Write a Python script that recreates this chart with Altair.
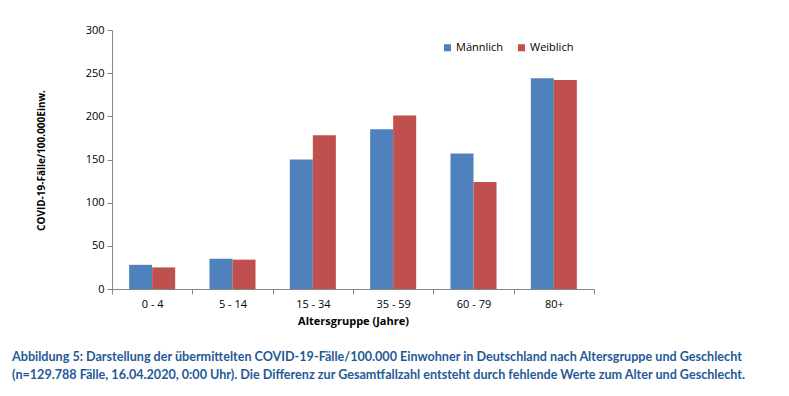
import altair as alt
import pandas as pd

groups = ["0 - 4", "5 - 14", "15 - 34", "35 - 59", "60 - 79", "80+"]
maennlich = [28, 35, 150, 185, 157, 244]
weiblich = [25, 34, 178, 201, 124, 242]
series = ["Männlich", "Weiblich"]
colors = ["#4F81BD", "#C0504D"]
y_ticks = [0, 50, 100, 150, 200, 250, 300]
caption = [
    "Abbildung 5: Darstellung der übermittelten COVID-19-Fälle/100.000 Einwohner in Deutschland nach Altersgruppe und Geschlecht",
    "(n=129.788 Fälle, 16.04.2020, 0:00 Uhr). Die Differenz zur Gesamtfallzahl entsteht durch fehlende Werte zum Alter und Geschlecht.",
]

rows = []
for g, m, w in zip(groups, maennlich, weiblich):
    rows.append({"Gruppe": g, "Geschlecht": series[0], "Wert": m})
    rows.append({"Gruppe": g, "Geschlecht": series[1], "Wert": w})
df = pd.DataFrame(rows)

font = "Open Sans, Liberation Sans, sans-serif"
cap_font = "Lato, Open Sans, sans-serif"
axis_color = "#868686"

chart = alt.Chart(df).mark_bar().encode(
    x=alt.X("Gruppe:N", sort=groups,
            scale=alt.Scale(paddingInner=0, paddingOuter=0),
            axis=alt.Axis(title="Altersgruppe (Jahre)", labelAngle=0, tickBand="extent",
                          domainColor=axis_color, tickColor=axis_color, tickSize=5,
                          labelFont=font, labelFontSize=11, labelColor="#000000",
                          labelPadding=4, titleFont=font, titleFontSize=11,
                          titleFontWeight="bold", titleColor="#000000", titlePadding=6)),
    xOffset=alt.XOffset("Geschlecht:N", sort=series,
                        scale=alt.Scale(paddingInner=0, paddingOuter=0.745)),
    y=alt.Y("Wert:Q", scale=alt.Scale(domain=[0, 300], nice=False),
            axis=alt.Axis(title="COVID-19-Fälle/100.000Einw.", values=y_ticks, grid=False,
                          domainColor=axis_color, tickColor=axis_color, tickSize=5,
                          labelFont=font, labelFontSize=11, labelColor="#000000",
                          labelPadding=3, titleFont=font, titleFontSize=10,
                          titleFontWeight="bold", titleColor="#000000",
                          titleX=-66, titleY=130, titleAngle=270)),
    color=alt.Color("Geschlecht:N", sort=series,
                    scale=alt.Scale(domain=series, range=colors),
                    legend=alt.Legend(title=None, orient="none", legendX=330, legendY=12,
                                      direction="horizontal", symbolType="square",
                                      symbolSize=50, symbolStrokeWidth=0,
                                      labelFont=font, labelFontSize=11,
                                      labelColor="#000000", columnPadding=12,
                                      labelOffset=3)),
).properties(
    width=482,
    height=259,
    title=alt.TitleParams(text=caption, orient="bottom", anchor="start", frame="group",
                          dx=-100, offset=25, font=cap_font, fontSize=12.6, fontWeight="bold",
                          color="#1F5A96", lineHeight=18),
).configure_view(stroke=None).properties(
    autosize=alt.AutoSizeParams(type="none"),
    padding={"left": 104, "top": 22, "right": 180, "bottom": 100},
)

chart.save("out.html", embed_options={"renderer": "svg", "actions": False})
